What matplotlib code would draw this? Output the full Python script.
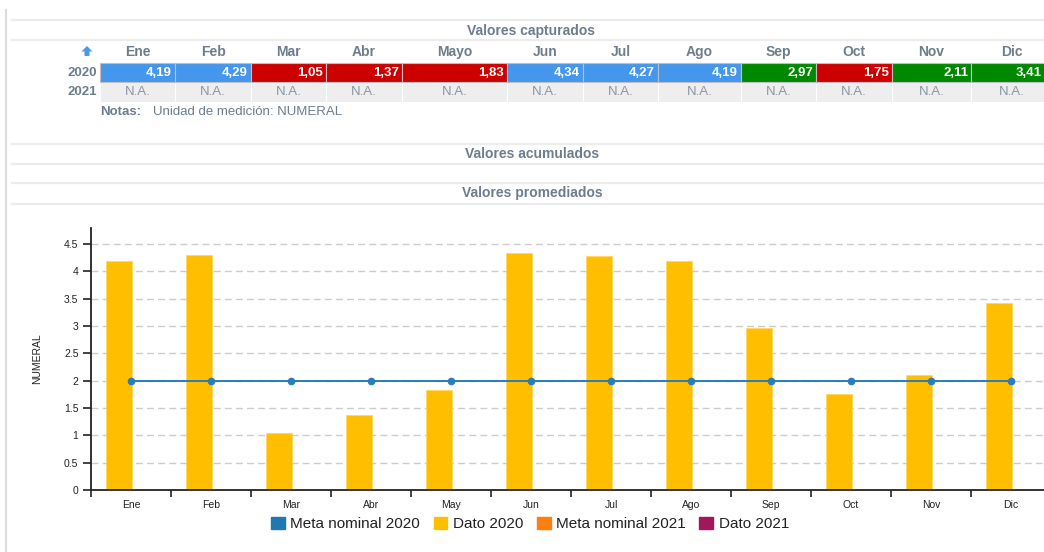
import numpy as np
import matplotlib.pyplot as plt
from matplotlib.patches import Rectangle, Polygon, Patch
from matplotlib.lines import Line2D

plt.rcParams['font.family'] = ['Liberation Sans', 'DejaVu Sans']

# Datos
meses_tabla = ['Ene', 'Feb', 'Mar', 'Abr', 'Mayo', 'Jun', 'Jul', 'Ago', 'Sep', 'Oct', 'Nov', 'Dic']
meses_graf = ['Ene', 'Feb', 'Mar', 'Abr', 'May', 'Jun', 'Jul', 'Ago', 'Sep', 'Oct', 'Nov', 'Dic']
dato_2020 = [4.19, 4.29, 1.05, 1.37, 1.83, 4.34, 4.27, 4.19, 2.97, 1.75, 2.11, 3.41]
meta_2020 = [2, 2, 2, 2, 2, 2, 2, 2, 2, 2, 2, 2]
dato_2021 = ['N.A.'] * 12
umbral_alto = 4.0

W, H = 1044, 552
gris = '#6e7d8e'
c_meta20, c_dato20, c_meta21, c_dato21 = '#1f77b4', '#ffbf00', '#ff7f0e', '#a0185a'


def fx(x):
    return x / W


def fy(y):
    return 1 - y / H


def rect(x0, y0, x1, y1, fc, ec='none', lw=0.0):
    fig.add_artist(Rectangle((fx(x0), fy(y1)), (x1 - x0) / W, (y1 - y0) / H,
                             transform=fig.transFigure, facecolor=fc, edgecolor=ec, lw=lw))


def hline(y, x0=12, x1=W, lw=1.6, color='#ececec'):
    fig.add_artist(Line2D([fx(x0), fx(x1)], [fy(y), fy(y)], color=color, lw=lw,
                          transform=fig.transFigure))


fig = plt.figure(figsize=(W / 100, H / 100), dpi=100)

# borde izquierdo
fig.add_artist(Line2D([fx(6), fx(6)], [fy(10), fy(H)], color='#dddddd', lw=1.5,
                      transform=fig.transFigure))

# Tabla de valores capturados
hline(20)
hline(40)
fig.text(fx(531), fy(31), 'Valores capturados', ha='center', va='center',
         fontsize=10, fontweight='bold', color=gris)

bordes = [100, 175, 251, 326, 402, 507, 583, 658, 741, 816, 892, 971, 1052]
fig.add_artist(Polygon([(fx(87), fy(46)), (fx(92.5), fy(51.5)), (fx(89.5), fy(51.5)),
                        (fx(89.5), fy(56)), (fx(84.5), fy(56)), (fx(84.5), fy(51.5)),
                        (fx(81.5), fy(51.5))], closed=True, transform=fig.transFigure,
                       facecolor='#4a9ae8', edgecolor='none'))

fig.text(fx(97), fy(73), '2020', ha='right', va='center', fontsize=9.5, fontweight='bold', color=gris)
fig.text(fx(97), fy(92), '2021', ha='right', va='center', fontsize=9.5, fontweight='bold', color=gris)

for i, mes in enumerate(meses_tabla):
    x0, x1 = bordes[i], bordes[i + 1]
    fig.text(fx((x0 + x1) / 2), fy(52), mes, ha='center', va='center',
             fontsize=10, fontweight='bold', color=gris)
    v = dato_2020[i]
    if v < meta_2020[i]:
        col = '#cc0000'
    elif v >= umbral_alto:
        col = '#4497ec'
    else:
        col = '#008800'
    rect(x0, 63, x1, 82, col, ec='#bfbfbf', lw=0.8)
    fig.text(fx(min(x1 - 3, 1042)), fy(73), f'{v:.2f}'.replace('.', ','), ha='right',
             va='center', fontsize=9.5, fontweight='bold', color='white')
    rect(x0 + 0.5, 83, x1 - 0.5, 102, '#eeeeee')
    fig.text(fx((x0 + x1) / 2), fy(92), dato_2021[i], ha='center', va='center',
             fontsize=9.5, color='#8a96a3')

fig.text(fx(100), fy(112), 'Notas:', ha='left', va='center', fontsize=9.5,
         fontweight='bold', color=gris)
fig.text(fx(153), fy(112), 'Unidad de medición: NUMERAL', ha='left', va='center',
         fontsize=9.5, color=gris)

hline(144)
hline(164)
fig.text(fx(532), fy(154), 'Valores acumulados', ha='center', va='center',
         fontsize=10, fontweight='bold', color=gris)
hline(183)
hline(204)
fig.text(fx(532), fy(193), 'Valores promediados', ha='center', va='center',
         fontsize=10, fontweight='bold', color=gris)

# Gráfico
ax = fig.add_axes([fx(91), fy(490), 960 / W, (490 - 228) / H])
x = np.arange(len(meses_graf))
ax.bar(x - 0.15, dato_2020, width=0.32, color=c_dato20, edgecolor='#ffd65c', lw=0.5, zorder=2)
ax.plot(x, meta_2020, color='#2a7dbb', lw=1.4, marker='o', markersize=4.5, zorder=3)

ax.set_xlim(-0.5, 11.5)
ax.set_ylim(0, 4.79)
ax.set_yticks(np.arange(0, 4.6, 0.5))
ax.set_yticklabels(['%g' % t for t in np.arange(0, 4.6, 0.5)])
ax.set_xticks(np.arange(-0.5, 12.5, 1))
ax.set_xticklabels([])
ax.set_xticks(x, minor=True)
ax.set_xticklabels(meses_graf, minor=True)
ax.tick_params(axis='x', which='major', length=5, width=1.2, color='#222222')
ax.tick_params(axis='x', which='minor', length=0, pad=7, labelsize=7.5, labelcolor='#222222')
ax.tick_params(axis='y', length=6, width=1.2, color='#222222', pad=3, labelsize=7.5,
               labelcolor='#222222')
ax.yaxis.grid(True, linestyle=(0, (5, 3)), color='#cccccc', lw=1)
ax.set_axisbelow(True)
for s in ['top', 'right']:
    ax.spines[s].set_visible(False)
for s in ['left', 'bottom']:
    ax.spines[s].set_color('#222222')
    ax.spines[s].set_linewidth(1.3)
ax.set_ylabel('NUMERAL', fontsize=7.5, color='#222222')
ax.yaxis.set_label_coords(-49 / 960, 0.5)

handles = [Patch(color=c_meta20), Patch(color=c_dato20), Patch(color=c_meta21), Patch(color=c_dato21)]
labels = ['Meta nominal 2020', 'Dato 2020', 'Meta nominal 2021', 'Dato 2021']
fig.legend(handles, labels, loc='center', bbox_to_anchor=(fx(530), fy(524)), ncol=4,
           frameon=False, fontsize=11, handlelength=0.9, handleheight=0.9,
           handletextpad=0.35, columnspacing=0.9, labelcolor='#222222')

fig.savefig('out.png', dpi=100)
